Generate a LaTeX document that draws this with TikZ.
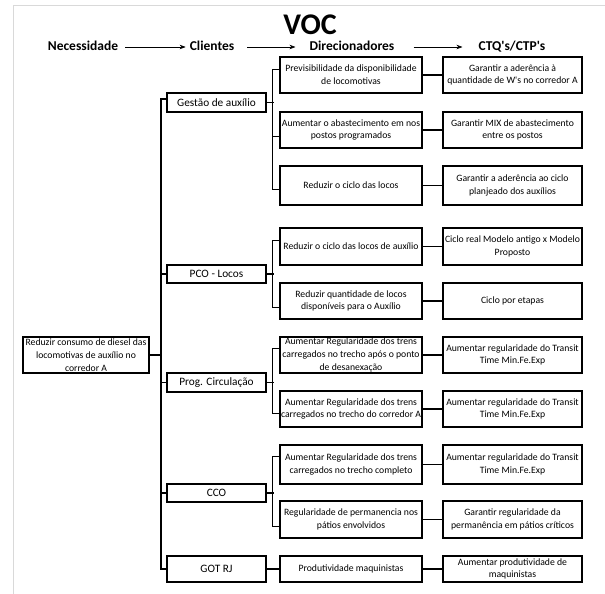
\documentclass[tikz,border=0pt]{standalone}
\usepackage{fontspec}
\setmainfont{Carlito}
\usetikzlibrary{arrows.meta}

\tikzset{
  box/.style={draw, line width=1.5pt, fill=white, align=center, inner sep=1pt,
    font=\fontsize{9.7}{12.7}\selectfont},
  dbox/.style={box, minimum width=142pt, minimum height=36pt},
  qbox/.style={box, minimum width=139pt, minimum height=36pt},
  cbox/.style={box, minimum width=99pt, minimum height=19pt,
    font=\fontsize{11.3}{13}\selectfont},
  link/.style={line width=1.3pt},
  hdr/.style={inner sep=0pt, text height=9pt, text depth=2pt,
    font=\bfseries\fontsize{13.5}{15}\selectfont},
  hdarrow/.style={semithick, -{Stealth[length=6pt,width=4.5pt]}},
}

\begin{document}
\begin{tikzpicture}[x=1pt,y=-1pt]
  \useasboundingbox (0,0) rectangle (605,594);
  \draw[black!15, line width=1pt] (13,594) -- (13,6) -- (605,6);

  % titulo e cabecalho
  \node[font=\bfseries\fontsize{30}{30}\selectfont] (voc) at (310,25) {VOC};
  \node[hdr] (hN) at (83,47) {Necessidade};
  \node[hdr] (hC) at (212,47) {Clientes};
  \node[hdr] (hD) at (352,47) {Direcionadores};
  \node[hdr] (hQ) at (512,47) {CTQ\textquotesingle s/CTP\textquotesingle s};
  \draw[hdarrow, shorten <=7pt, shorten >=4pt] (hN) -- (hC);
  \draw[hdarrow, shorten <=13pt, shorten >=14pt] (hC) -- (hD);
  \draw[hdarrow, shorten <=19pt, shorten >=16pt] (hD) -- (hQ);

  % necessidade
  \node[box, minimum width=126pt, minimum height=36pt] (root) at (86,355)
    {Reduzir consumo de diesel das\\locomotivas de auxílio no\\corredor A};

  % clientes
  \node[cbox] (cl1) at (216.5,102.5) {Gestão de auxílio};
  \node[cbox, minimum height=18pt] (cl2) at (216.5,274) {PCO - Locos};
  \node[cbox] (cl3) at (216.5,382.5) {Prog. Circulação};
  \node[cbox, minimum height=18pt] (cl4) at (216.5,493) {CCO};
  \node[cbox, minimum height=26pt] (cl5) at (216.5,569) {GOT RJ};

  % direcionadores
  \node[dbox] (d1) at (351,75) {Previsibilidade da disponibilidade\\de locomotivas};
  \node[dbox] (d2) at (351,130) {Aumentar o abastecimento em nos\\postos programados};
  \node[dbox, minimum height=39pt] (d3) at (351,185.5) {Reduzir o ciclo das locos};
  \node[dbox, minimum height=37pt] (d4) at (351,246.5) {Reduzir o ciclo das locos de auxílio};
  \node[dbox] (d5) at (351,301) {Reduzir quantidade de locos\\disponíveis para o Auxílio};
  \node[dbox] (d6) at (351,355) {Aumentar Regularidade dos trens\\carregados no trecho após o ponto\\de desanexação};
  \node[dbox] (d7) at (351,409) {Aumentar Regularidade dos trens\\carregados no trecho do corredor A};
  \node[dbox, minimum height=39pt] (d8) at (351,464.5) {Aumentar Regularidade dos trens\\carregados no trecho completo};
  \node[dbox, minimum height=37pt] (d9) at (351,519.5) {Regularidade de permanencia nos\\pátios envolvidos};
  \node[dbox, minimum height=26pt] (d10) at (351,569) {Produtividade maquinistas};

  % CTQ's/CTP's
  \node[qbox] (q1) at (512.5,75) {Garantir a aderência à\\quantidade de W\textquotesingle s no corredor A};
  \node[qbox] (q2) at (512.5,130) {Garantir MIX de abastecimento\\entre os postos};
  \node[qbox, minimum height=39pt] (q3) at (512.5,185.5) {Garantir a aderência ao ciclo\\planjeado dos auxílios};
  \node[qbox, minimum height=37pt] (q4) at (512.5,246.5) {Ciclo real Modelo antigo x Modelo\\Proposto};
  \node[qbox] (q5) at (512.5,301) {Ciclo por etapas};
  \node[qbox] (q6) at (512.5,355) {Aumentar regularidade do Transit\\Time Min.Fe.Exp};
  \node[qbox] (q7) at (512.5,409) {Aumentar regularidade do Transit\\Time Min.Fe.Exp};
  \node[qbox, minimum height=39pt] (q8) at (512.5,464.5) {Aumentar regularidade do Transit\\Time Min.Fe.Exp};
  \node[qbox, minimum height=37pt] (q9) at (512.5,519.5) {Garantir regularidade da\\permanência em pátios críticos};
  \node[qbox, minimum height=26pt] (q10) at (512.5,569) {Aumentar produtividade de\\maquinistas};

  % tronco
  \coordinate (tk) at (161,0);
  \draw[link] (root.east) -- (root.east -| tk);
  \draw[link] ([yshift=3.5pt]cl1.west) -| (tk |- cl5.west) -- (cl5.west);
  \foreach \c in {cl2,cl3,cl4}
    \draw[link] (\c.west) -- (\c.west -| tk);

  % ramos
  \foreach \c in {cl1,cl2,cl3,cl4}
    \draw[link] (\c.east) -- ++(7,0);
  \draw[link] ([yshift=-13pt]d1.north west) -- ++(-7,0) |- ([yshift=16pt]d3.south west);
  \draw[link] ([yshift=12pt]d2.south west) -- ++(-7,0);
  \draw[link] ([yshift=-13pt]d4.north west) -- ++(-7,0) |- ([yshift=12pt]d5.south west);
  \draw[link] ([yshift=-12pt]d6.north west) -- ++(-7,0) |- ([yshift=14pt]d7.south west);
  \draw[link] ([yshift=-12pt]d8.north west) -- ++(-7,0) |- ([yshift=12pt]d9.south west);
  \draw[link] (cl5) -- (d10);

  \foreach \i in {1,...,10}
    \draw[link] (d\i) -- (q\i);
  \draw[line width=2.4pt] (d6) -- (q6);
\end{tikzpicture}
\end{document}
